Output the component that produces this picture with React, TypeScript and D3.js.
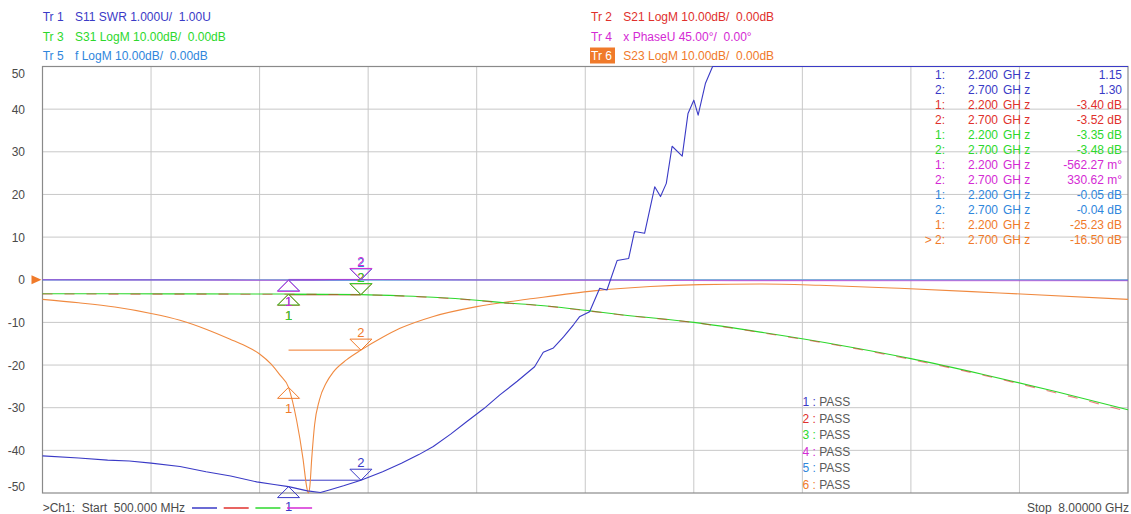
import { useEffect } from 'react';
import * as d3 from 'd3';

const WIDTH = 1131;
const HEIGHT = 514;

const FREQ_RANGE: [number, number] = [0.5, 8.0]; // GHz
const Y_TICKS = [50, 40, 30, 20, 10, 0, -10, -20, -30, -40, -50];
const X_DIVISIONS = 10;
const MARKER_FREQS = [2.2, 2.7];

const COLORS = {
  tr1: '#3a3ac6',
  tr2: '#e0302c',
  tr3: '#2cd82c',
  tr4: '#d42ad4',
  tr5: '#2f86dc',
  tr6: '#f07a2a',
};

// [freq GHz, value]
const S11_SWR: [number, number][] = [
  [0.5, 1.87], [0.75, 1.82], [0.95, 1.77], [1.1, 1.75], [1.25, 1.7], [1.45, 1.62], [1.63, 1.5],
  [1.8, 1.4], [1.98, 1.26], [2.1, 1.2], [2.2, 1.15], [2.33, 1.05], [2.42, 1.01], [2.47, 1.06],
  [2.58, 1.17], [2.7, 1.3], [2.85, 1.5], [2.98, 1.7], [3.1, 1.9], [3.2, 2.09], [3.32, 2.38],
  [3.43, 2.67], [3.55, 2.98], [3.66, 3.3], [3.78, 3.62], [3.9, 3.96], [3.96, 4.3], [4.03, 4.4],
  [4.1, 4.66], [4.17, 4.95], [4.21, 5.13], [4.28, 5.25], [4.35, 5.8], [4.4, 5.76], [4.47, 6.45],
  [4.55, 6.5], [4.59, 7.13], [4.66, 7.09], [4.73, 8.18], [4.77, 7.95], [4.81, 8.26], [4.85, 9.13],
  [4.92, 8.9], [4.96, 9.9], [5.0, 10.21], [5.03, 9.86], [5.08, 10.6], [5.13, 11.2], [5.4, 13.5],
  [6.0, 17], [7.0, 20], [8.0, 22],
];
const S21_DB: [number, number][] = [
  [0.5, -3.35], [1.0, -3.36], [1.5, -3.37], [2.0, -3.39], [2.2, -3.4], [2.7, -3.52], [3.0, -3.85],
  [3.2, -4.15], [3.5, -4.85], [3.66, -5.35], [4.0, -6.25], [4.28, -7.35], [4.5, -8.25], [5.0, -10.05],
  [5.5, -12.6], [6.0, -15.4], [6.5, -18.7], [7.0, -22.4], [7.5, -26.5], [8.0, -30.9],
];
const S31_DB: [number, number][] = [
  [0.5, -3.3], [1.0, -3.3], [1.5, -3.32], [2.0, -3.34], [2.2, -3.35], [2.7, -3.48], [3.0, -3.8],
  [3.2, -4.1], [3.5, -4.8], [3.66, -5.3], [4.0, -6.2], [4.28, -7.3], [4.5, -8.2], [5.0, -10.0],
  [5.5, -12.5], [6.0, -15.3], [6.5, -18.5], [7.0, -22.2], [7.5, -26.2], [8.0, -30.5],
];
const PHASE_DEG: [number, number][] = [
  [0.5, 0], [1.5, -0.3], [2.2, -0.56], [2.7, 0.33], [3.5, -0.2], [4.5, -0.6], [5.3, -0.9],
  [6.5, -1.0], [8.0, -1.1],
];
const F_DB: [number, number][] = [
  [0.5, -0.02], [2.2, -0.05], [2.7, -0.04], [5.0, -0.06], [8.0, -0.08],
];
const S23_DB: [number, number][] = [
  [0.5, -4.6], [0.75, -5.4], [1.0, -6.4], [1.25, -7.9], [1.45, -9.5], [1.63, -11.6], [1.8, -14.0],
  [1.9, -15.5], [2.0, -17.4], [2.08, -19.8], [2.14, -22.3], [2.2, -25.23], [2.256, -33.0], [2.3, -42],
  [2.325, -48.5], [2.336, -51], [2.347, -48.5], [2.36, -42], [2.38, -34], [2.413, -28.2], [2.46, -24.2],
  [2.51, -21.6], [2.6, -18.8], [2.7, -16.5], [2.85, -13.5], [2.97, -11.4], [3.2, -8.6], [3.5, -6.3],
  [3.89, -4.4], [4.31, -2.6], [4.7, -1.6], [5.04, -1.15], [5.46, -1.0], [5.87, -1.3], [6.42, -2.0],
  [7.11, -3.1], [8.0, -4.6],
];

// marker readouts at MARKER_FREQS
const MARKER_VALUES = {
  tr1: [1.15, 1.3],
  tr2: [-3.4, -3.52],
  tr3: [-3.35, -3.48],
  tr4: [-0.56227, 0.33062],
  tr5: [-0.05, -0.04],
  tr6: [-25.23, -16.5],
};
const MARKER_TEXT = {
  tr1: ['1.15', '1.30'],
  tr2: ['-3.40 dB', '-3.52 dB'],
  tr3: ['-3.35 dB', '-3.48 dB'],
  tr4: ['-562.27 m°', '330.62 m°'],
  tr5: ['-0.05 dB', '-0.04 dB'],
  tr6: ['-25.23 dB', '-16.50 dB'],
};

const HEADER_LEFT = [
  ['Tr 1', 'S11 SWR 1.000U/  1.00U', 'tr1'],
  ['Tr 3', 'S31 LogM 10.00dB/  0.00dB', 'tr3'],
  ['Tr 5', 'f LogM 10.00dB/  0.00dB', 'tr5'],
];
const HEADER_RIGHT = [
  ['Tr 2', 'S21 LogM 10.00dB/  0.00dB', 'tr2'],
  ['Tr 4', 'x PhaseU 45.00°/  0.00°', 'tr4'],
  ['Tr 6', 'S23 LogM 10.00dB/  0.00dB', 'tr6'],
];
const TABLE_ORDER = ['tr1', 'tr2', 'tr3', 'tr4', 'tr5', 'tr6'];

type Key = keyof typeof COLORS;

// convert each format into screen grid units (10 units / div, 0 at reference line)
const toGrid: Record<Key, (v: number) => number> = {
  tr1: v => -50 + (v - 1) * 10, // SWR 1U/div, ref 1.00 at bottom
  tr2: v => v,
  tr3: v => v,
  tr4: v => (v / 45) * 10,
  tr5: v => v,
  tr6: v => v,
};

const FONT = '"Liberation Sans", Arial, sans-serif';

export default function App() {
  useEffect(() => {
    document.body.style.margin = '0';
    document.body.style.overflow = 'hidden';
  }, []);

  const left = 42.5, right = 1128, top = 66.5, bottom = 493;
  const x = d3.scaleLinear().domain(FREQ_RANGE).range([left, right]);
  const y = d3.scaleLinear().domain([-50, 50]).range([bottom, top]);
  const yc = d3.scaleLinear().domain([-50, 50]).range([bottom, top]).clamp(true);

  const xGrid = d3.range(X_DIVISIONS + 1).map(i => FREQ_RANGE[0] + (i * (FREQ_RANGE[1] - FREQ_RANGE[0])) / X_DIVISIONS);

  const traces: { key: Key; data: [number, number][]; smooth: boolean; extra?: any }[] = [
    { key: 'tr6', data: S23_DB, smooth: true, extra: { stroke: '#f08a40' } },
    { key: 'tr3', data: S31_DB, smooth: true },
    { key: 'tr2', data: S21_DB, smooth: true, extra: { strokeDasharray: '10,12', strokeOpacity: 0.6 } },
    { key: 'tr5', data: F_DB, smooth: true },
    { key: 'tr4', data: PHASE_DEG, smooth: true, extra: { strokeOpacity: 0.6 } },
    { key: 'tr1', data: S11_SWR, smooth: false },
  ];

  const pathFor = (key: Key, data: [number, number][], smooth: boolean) =>
    d3.line<[number, number]>()
      .x(d => x(d[0]))
      .y(d => yc(toGrid[key](d[1])))
      .curve(smooth ? d3.curveMonotoneX : d3.curveLinear)(data) || '';

  const tri = 11;
  // drawing order: later ones sit on top
  const markerKeys: Key[] = ['tr6', 'tr2', 'tr3', 'tr5', 'tr4', 'tr1'];

  return (
    <svg width={WIDTH} height={HEIGHT} style={{ display: 'block', background: '#fff', fontFamily: FONT }}>
      {/* header */}
      {HEADER_LEFT.map((h, i) => (
        <g key={'hl' + i} fill={COLORS[h[2] as Key]} fontSize={12}>
          <text x={42.7} y={21 + i * 19.5}>{h[0]}</text>
          <text x={75} y={21 + i * 19.5} style={{ whiteSpace: 'pre' }}>{h[1]}</text>
        </g>
      ))}
      {HEADER_RIGHT.map((h, i) => (
        <g key={'hr' + i} fill={COLORS[h[2] as Key]} fontSize={12}>
          {h[0] === 'Tr 6' && <rect x={590} y={47.5} width={25} height={16} fill={COLORS.tr6} />}
          <text x={591} y={21 + i * 19.5} fill={h[0] === 'Tr 6' ? '#fff' : undefined}>{h[0]}</text>
          <text x={623.3} y={21 + i * 19.5} style={{ whiteSpace: 'pre' }}>{h[1]}</text>
        </g>
      ))}

      {/* grid */}
      <g stroke="#c8c8c8" strokeWidth={1}>
        {Y_TICKS.slice(1, -1).map(t => (
          <line key={'gy' + t} x1={left} x2={right} y1={y(t)} y2={y(t)} />
        ))}
        {xGrid.slice(1, -1).map(f => (
          <line key={'gx' + f} x1={x(f)} x2={x(f)} y1={top} y2={bottom} />
        ))}
      </g>
      <rect x={left} y={top} width={right - left} height={bottom - top} fill="none" stroke="#8a8a8a" strokeWidth={1.2} />

      {/* y labels */}
      {Y_TICKS.map(t => (
        <text key={'yl' + t} x={25} y={Math.min(Math.max(y(t), 73), 486) + 4.5} textAnchor="end" fontSize={12} fill="#4a4a4a">
          {t}
        </text>
      ))}
      {/* reference position arrow */}
      <path d={`M${left - 11},${y(0) - 4.5}L${left - 1},${y(0)}L${left - 11},${y(0) + 4.5}Z`} fill={COLORS.tr6} />

      {/* marker delta lines */}
      {markerKeys.map(k => {
        const v = yc(toGrid[k](MARKER_VALUES[k][1]));
        return (
          <line key={'ml' + k} x1={x(MARKER_FREQS[0])} x2={x(MARKER_FREQS[1])} y1={v} y2={v}
            stroke={COLORS[k]} strokeWidth={1} />
        );
      })}

      {/* traces */}
      <g fill="none" strokeWidth={1.1} strokeLinejoin="round">
        {traces.map(t => (
          <path key={t.key} d={pathFor(t.key, t.data, t.smooth)} stroke={COLORS[t.key]} {...(t.extra || {})} />
        ))}
      </g>

      {/* markers */}
      {markerKeys.map(k => {
        const [v1, v2] = MARKER_VALUES[k];
        const x1 = x(MARKER_FREQS[0]), y1 = yc(toGrid[k](v1));
        const x2 = x(MARKER_FREQS[1]), y2 = yc(toGrid[k](v2));
        return (
          <g key={'mk' + k} fill="none" stroke={COLORS[k]} strokeWidth={1}>
            <path d={`M${x1},${y1}L${x1 + tri},${y1 + tri}L${x1 - tri},${y1 + tri}Z`} />
            <path d={`M${x2},${y2}L${x2 + tri},${y2 - tri}L${x2 - tri},${y2 - tri}Z`} />
            <text x={x1} y={Math.min(y1 + tri + 15, 511)} textAnchor="middle" fontSize={13} fill={COLORS[k]} stroke="none">1</text>
            <text x={x2} y={y2 - tri - 2} textAnchor="middle" fontSize={13} fill={COLORS[k]} stroke="none">2</text>
          </g>
        );
      })}

      {/* marker table */}
      {(TABLE_ORDER as Key[]).map((k, ti) =>
        [0, 1].map(mi => {
          const row = ti * 2 + mi;
          const yy = 78.5 + row * 15;
          const last = row === 11;
          return (
            <g key={'tb' + k + mi} fill={COLORS[k]} fontSize={12}>
              <text x={945} y={yy} textAnchor="end" style={{ whiteSpace: 'pre' }}>{(last ? '> ' : '') + (mi + 1) + ':'}</text>
              <text x={968} y={yy}>{MARKER_FREQS[mi].toFixed(3)}</text>
              <text x={1003} y={yy} style={{ whiteSpace: 'pre' }}>GH z</text>
              <text x={1122} y={yy} textAnchor="end">{MARKER_TEXT[k][mi]}</text>
            </g>
          );
        })
      )}

      {/* limit test results */}
      {TABLE_ORDER.map((k, i) => (
        <text key={'ps' + k} x={802.5} y={406 + i * 16.6} fontSize={12} style={{ whiteSpace: 'pre' }}>
          <tspan fill={COLORS[k as Key]}>{`${i + 1} : `}</tspan>
          <tspan fill="#5a5a5a">PASS</tspan>
        </text>
      ))}

      {/* footer */}
      <text x={42.7} y={512} fontSize={12} fill="#4a4a4a" style={{ whiteSpace: 'pre' }}>{'>Ch1:  Start  500.000 MHz'}</text>
      {(['tr1', 'tr2', 'tr3', 'tr4'] as Key[]).map((k, i) => (
        <line key={'lg' + k} x1={192 + i * 31.7} x2={217 + i * 31.7} y1={508} y2={508} stroke={COLORS[k]} strokeWidth={1.5} />
      ))}
      <text x={1129} y={512} fontSize={12} fill="#4a4a4a" textAnchor="end" style={{ whiteSpace: 'pre' }}>{'Stop  8.00000 GHz'}</text>
    </svg>
  );
}
